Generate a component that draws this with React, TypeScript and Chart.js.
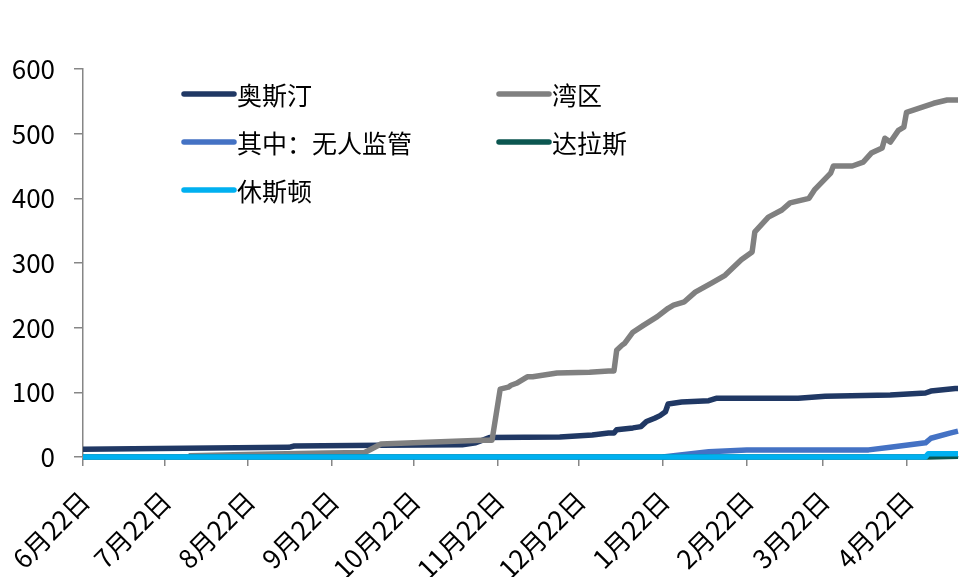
import { useEffect, useRef } from "react";
import { Chart, registerables } from "chart.js";

Chart.register(...registerables);

// x values are days counted from 6月22日
const tickDays = [0, 30, 61, 92, 122, 153, 183, 214, 245, 273, 304];
const tickLabels = ["6月22日", "7月22日", "8月22日", "9月22日", "10月22日", "11月22日", "12月22日", "1月22日", "2月22日", "3月22日", "4月22日"];
const lastDay = 323;

const seriesNames = ["奥斯汀", "湾区", "其中：无人监管", "达拉斯", "休斯顿"];

const austinDays = [0, 28, 76, 78, 110, 140, 145, 150, 176, 188, 194, 196, 197, 203, 206, 208, 211, 213, 215, 216, 221, 231, 234, 264, 274, 298, 311, 313, 322, 323];
const austinValues = [12, 13, 15, 17, 18, 19, 22, 30, 31, 34, 37, 37, 42, 45, 47, 55, 60, 64, 70, 82, 85, 87, 91, 91, 94, 96, 99, 102, 106, 106];

const bayDays = [39, 60, 90, 104, 110, 122, 147, 151, 154, 157, 158, 160, 164, 166, 175, 187, 194, 196, 197, 199, 200, 203, 207, 212, 216, 218, 222, 226, 232, 237, 243, 247, 248, 253, 258, 261, 268, 270, 276, 277, 284, 288, 291, 295, 296, 298, 301, 303, 304, 309, 314, 319, 323];
const bayValues = [2, 4, 6, 7, 20, 22, 26, 26, 105, 108, 111, 114, 124, 124, 130, 131, 133, 133, 165, 173, 176, 193, 204, 217, 230, 235, 240, 255, 269, 281, 305, 317, 348, 371, 382, 393, 400, 413, 439, 450, 450, 456, 470, 478, 493, 487, 505, 510, 533, 540, 547, 552, 552];

const unsupervisedDays = [214, 218, 231, 245, 290, 298, 311, 313, 320, 323];
const unsupervisedValues = [0, 2, 8, 11, 11, 15, 22, 29, 37, 40];

const dallasDays = [0, 312, 323];
const dallasValues = [0, 0, 1];

const houstonDays = [0, 311, 312, 323];
const houstonValues = [0, 0, 5, 5];

const colors = ["#203864", "#808080", "#4472C4", "#0B5650", "#00B0F0"];
const FONT = '"Noto Sans CJK SC", "Noto Sans", sans-serif';

function toPoints(days: number[], values: number[]) {
  return days.map((d, i) => ({ x: d, y: values[i] }));
}

const legendPlugin = {
  id: "customLegend",
  afterDraw(chart: any) {
    const ctx = chart.ctx;
    const slots = [
      { x: 182, y: 94 },
      { x: 497, y: 94 },
      { x: 182, y: 142 },
      { x: 497, y: 142 },
      { x: 182, y: 190 },
    ];
    ctx.save();
    seriesNames.forEach((name, i) => {
      const s = slots[i];
      ctx.strokeStyle = colors[i];
      ctx.lineWidth = 5.5;
      ctx.lineCap = "round";
      ctx.beginPath();
      ctx.moveTo(s.x + 2, s.y);
      ctx.lineTo(s.x + 52, s.y);
      ctx.stroke();
      ctx.fillStyle = "#000000";
      ctx.font = `25px ${FONT}`;
      ctx.textBaseline = "middle";
      ctx.textAlign = "left";
      ctx.fillText(name, s.x + 55, s.y + 1);
    });
    ctx.restore();
  },
};

export default function App() {
  const ref = useRef<HTMLCanvasElement | null>(null);
  useEffect(() => {
    if (!ref.current) return;
    const mk = (i: number, days: number[], values: number[], order: number) => ({
      label: seriesNames[i],
      data: toPoints(days, values),
      borderColor: colors[i],
      backgroundColor: colors[i],
      borderWidth: 5.5,
      pointRadius: 0,
      tension: 0,
      fill: false,
      clip: false as any,
      borderJoinStyle: "round" as const,
      order,
    });
    const chart = new Chart(ref.current, {
      type: "line",
      data: {
        datasets: [
          mk(0, austinDays, austinValues, 4),
          mk(1, bayDays, bayValues, 3),
          mk(2, unsupervisedDays, unsupervisedValues, 2),
          mk(3, dallasDays, dallasValues, 1),
          mk(4, houstonDays, houstonValues, 0),
        ],
      },
      options: {
        animation: false,
        responsive: false,
        layout: { padding: { top: 69, right: 2, left: 0, bottom: 0 } },
        plugins: { legend: { display: false }, tooltip: { enabled: false } },
        scales: {
          x: {
            type: "linear",
            min: 0,
            max: lastDay,
            afterBuildTicks: (s: any) => {
              s.ticks = tickDays.map((v) => ({ value: v }));
            },
            afterFit: (s: any) => {
              s.height = 120;
              s.paddingLeft = 0;
              s.paddingRight = 0;
            },
            ticks: {
              autoSkip: false,
              maxRotation: 45,
              minRotation: 45,
              padding: 19,
              labelOffset: 2,
              color: "#000000",
              font: { size: 26, family: FONT },
              callback: (v: any) => {
                const idx = tickDays.indexOf(Number(v));
                return idx >= 0 ? tickLabels[idx] : "";
              },
            },
            grid: { drawOnChartArea: false, drawTicks: true, tickLength: 9, color: "#868686", lineWidth: 1.5 },
            border: { display: true, color: "#868686", width: 1.5 },
          },
          y: {
            min: 0,
            max: 600,
            afterFit: (s: any) => {
              s.width = 83;
            },
            ticks: {
              stepSize: 100,
              padding: 19,
              color: "#000000",
              font: { size: 26, family: FONT },
            },
            grid: { drawOnChartArea: false, drawTicks: true, tickLength: 9, color: "#868686", lineWidth: 1.5 },
            border: { display: true, color: "#868686", width: 1.5 },
          },
        },
      },
      plugins: [legendPlugin],
    });
    return () => chart.destroy();
  }, []);
  return (
    <div style={{ position: "absolute", left: 0, top: 0, width: 960, height: 577, background: "#ffffff" }}>
      <canvas ref={ref} width={960} height={577} style={{ display: "block" }} />
    </div>
  );
}
